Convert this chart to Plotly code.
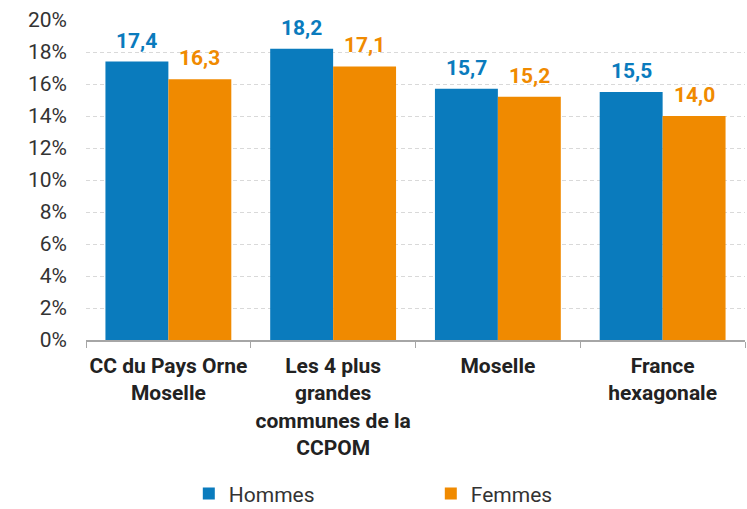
import plotly.graph_objects as go

categories = [
    "CC du Pays Orne<br>Moselle",
    "Les 4 plus<br>grandes<br>communes de la<br>CCPOM",
    "Moselle",
    "France<br>hexagonale",
]
hommes = [17.4, 18.2, 15.7, 15.5]
femmes = [16.3, 17.1, 15.2, 14.0]
y_ticks = [0, 2, 4, 6, 8, 10, 12, 14, 16, 18, 20]
y_tick_labels = [f"{v}%" for v in y_ticks]

BLUE = "#0a7bbd"
ORANGE = "#f08a00"
FONT = "Roboto, Arial, sans-serif"

WIDTH, HEIGHT = 747, 509
MARGIN = dict(l=86, r=2, t=20, b=169, autoexpand=False)
BARGAP = 0.236

fig = go.Figure()
fig.add_trace(go.Bar(
    x=categories, y=hommes, name="Hommes",
    marker=dict(color=BLUE, line=dict(width=0)),
))
fig.add_trace(go.Bar(
    x=categories, y=femmes, name="Femmes",
    marker=dict(color=ORANGE, line=dict(width=0)),
))

# value labels above each bar, shifted half a bar width left / right of the category centre
plot_w = WIDTH - MARGIN["l"] - MARGIN["r"]
half_bar = plot_w / len(categories) * (1 - BARGAP) / 4
for series, color, sign in ((hommes, BLUE, -1), (femmes, ORANGE, 1)):
    for cat, val in zip(categories, series):
        fig.add_annotation(
            x=cat, y=val, xref="x", yref="y",
            text=f"{val:.1f}".replace(".", ","),
            showarrow=False, xanchor="center", yanchor="bottom",
            xshift=sign * half_bar, yshift=7,
            font=dict(color=color, size=21, family=FONT, weight="bold"),
        )

fig.update_layout(
    width=WIDTH, height=HEIGHT,
    margin=MARGIN,
    paper_bgcolor="white", plot_bgcolor="white",
    barmode="group", bargap=BARGAP, bargroupgap=0,
    font=dict(family=FONT, color="#333333"),
    showlegend=True,
    legend=dict(
        orientation="h", x=0.156, xanchor="left", y=-0.481, yanchor="middle",
        font=dict(size=21, color="#333333"),
        entrywidth=197, entrywidthmode="pixels",
        itemsizing="constant",
    ),
)
fig.update_xaxes(
    type="category", tickangle=0, automargin=False,
    tickson="boundaries", ticks="outside", ticklen=6, tickcolor="#a6a6a6",
    showline=True, linecolor="#a6a6a6", linewidth=1.5,
    showgrid=False, ticklabelstandoff=6,
    tickfont=dict(size=21, color="#222222", family=FONT, weight="bold"),
)
fig.update_yaxes(
    range=[0, 20], tickvals=y_ticks, ticktext=y_tick_labels,
    showgrid=True, gridcolor="#d9d9d9", griddash="4px,3px", gridwidth=1,
    zeroline=False, showline=False, automargin=False,
    tickfont=dict(size=21, color="#333333", family=FONT),
    ticks="", ticklabelstandoff=18,
)

fig.write_html("out.html")
